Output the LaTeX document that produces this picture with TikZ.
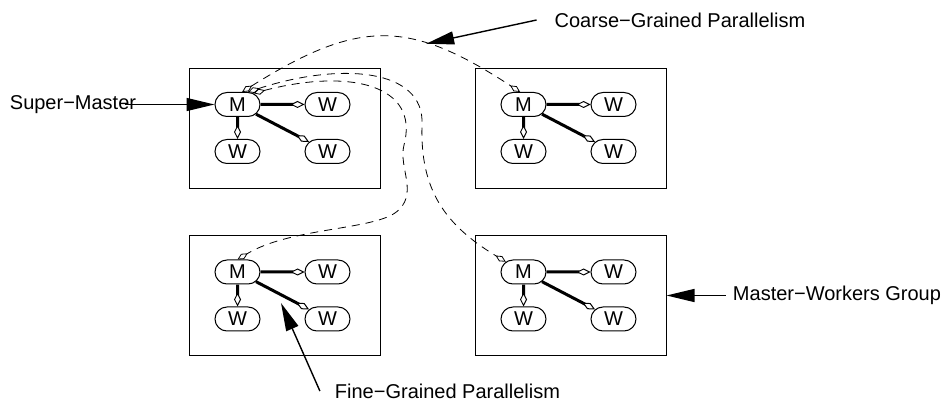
\documentclass[tikz,border=0pt]{standalone}
\usepackage{fontspec}
\setmainfont{Liberation Sans}
\usetikzlibrary{arrows.meta,shapes.misc}

\tikzstyle{group} = [rectangle, draw=black, line width=0.5pt, minimum width=95.5pt, minimum height=59.75pt]
\tikzstyle{proc} = [rounded rectangle, draw=black, line width=0.5pt, minimum width=24.5pt, minimum height=12pt, inner sep=1pt]
\tikzstyle{link} = [line width=1.5pt, -{Diamond[fill=white, length=7pt, width=3.5pt, line width=0.5pt]}]
\tikzstyle{msg} = [line width=0.4pt, dash pattern=on 4pt off 3pt, {Diamond[fill=white, length=6pt, width=3pt]}-{Diamond[fill=white, length=6pt, width=3pt]}]
\tikzstyle{pointer} = [line width=0.7pt, -{Triangle[length=14pt, width=6.5pt]}]

\begin{document}
\begin{tikzpicture}[x=0.5pt, y=-0.5pt, node distance=23.5pt, font=\fontsize{10}{12}\selectfont]
    \useasboundingbox (0,0) rectangle (944,401);
    % master-workers groups
    \node (g1) [group] at (284.5,128.75) {};
    \node (g2) [group] at (570.5,128.75) {};
    \node (g3) [group] at (284.5,295.5) {};
    \node (g4) [group] at (570.5,295.5) {};
    \node (m1) [proc] at (237.5,104.5) {M};
    \node (w1a) [proc, right of=m1, xshift=21.5pt] {W};
    \node (w1b) [proc, below of=m1] {W};
    \node (w1c) [proc, below of=w1a] {W};
    \node (m2) [proc] at (523.5,104.5) {M};
    \node (w2a) [proc, right of=m2, xshift=21.5pt] {W};
    \node (w2b) [proc, below of=m2] {W};
    \node (w2c) [proc, below of=w2a] {W};
    \node (m3) [proc] at (237.5,272) {M};
    \node (w3a) [proc, right of=m3, xshift=21.5pt] {W};
    \node (w3b) [proc, below of=m3] {W};
    \node (w3c) [proc, below of=w3a] {W};
    \node (m4) [proc] at (523.5,272) {M};
    \node (w4a) [proc, right of=m4, xshift=21.5pt] {W};
    \node (w4b) [proc, below of=m4] {W};
    \node (w4c) [proc, below of=w4a] {W};
    \draw [link] (m1) -- (w1a);
    \draw [link] (m1) -- (w1b);
    \draw [link] (m1) -- (w1c);
    \draw [link] (m2) -- (w2a);
    \draw [link] (m2) -- (w2b);
    \draw [link] (m2) -- (w2c);
    \draw [link] (m3) -- (w3a);
    \draw [link] (m3) -- (w3b);
    \draw [link] (m3) -- (w3c);
    \draw [link] (m4) -- (w4a);
    \draw [link] (m4) -- (w4b);
    \draw [link] (m4) -- (w4c);
    % super-master to the other masters
    \draw [msg] (m1.70) .. controls (360,18) and (410,20) .. (m2.105) coordinate[pos=0.67] (cgTip);
    \draw [msg] (m1.35) .. controls (350,68) and (420,85) .. (404,145)
        .. controls (398,168) and (420,195) .. (395,213)
        .. controls (370,230) and (290,228) .. (m3.north);
    \draw [msg] (m1.50) .. controls (340,62) and (425,68) .. (422,125)
        .. controls (420,190) and (445,225) .. (m4.150);
    % labels
    \coordinate (fgTip) at (281,303);
    \node (sm) [left of=m1, xshift=-58.75pt] {Super−Master};
    \node (cg) at (680,20) {Coarse−Grained Parallelism};
    \node (fg) at (447.5,391) {Fine−Grained Parallelism};
    \node (mw) [right of=g4, xshift=109.75pt] {Master−Workers Group};
    \draw [pointer] ([xshift=-9pt]sm.east) -- (m1.west);
    \draw [pointer] ([xshift=-5.5pt]cg.west) -- (cgTip);
    \draw [pointer] ([xshift=-4pt]fg.west) -- (fgTip);
    \draw [pointer] (mw.west) -- (g4.east);
\end{tikzpicture}
\end{document}
